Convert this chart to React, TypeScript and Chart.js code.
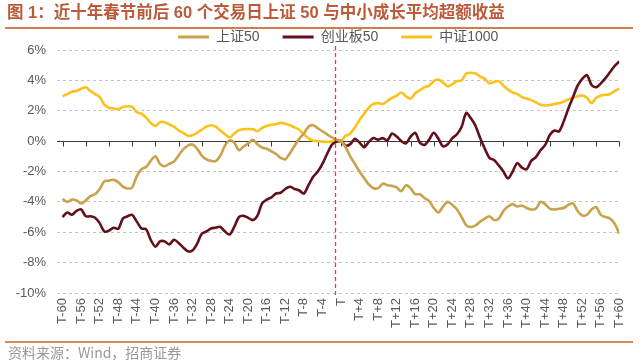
import React, { useEffect, useRef } from "react";
import { Chart, registerables } from "chart.js";

Chart.register(...registerables);

// Trading days relative to Spring Festival (T)
const dayOffsets: number[] = Array.from({ length: 121 }, (_, i) => i - 60);
const categories: string[] = dayOffsets.map((d) => (d === 0 ? "T" : d < 0 ? `T${d}` : `T+${d}`));
const labelEvery = 4;
const tickMarkEvery = 5;
const yTickValues = [-10, -8, -6, -4, -2, 0, 2, 4, 6];
const festivalMarker = -1.2; // position of the dashed T marker line

const seriesNames = ["上证50", "创业板50", "中证1000"];
const seriesColors = ["#C9A24C", "#62101A", "#FBC21B"];

const sz50: number[] = [
  -3.8, -4.0, -3.85, -3.9, -4.1, -3.9, -3.62, -3.5, -3.15, -2.65,
  -2.6, -2.55, -2.7, -3.0, -3.12, -3.05, -2.3, -1.85, -1.7, -1.3,
  -1.0, -1.5, -1.65, -1.5, -1.35, -0.95, -0.55, -0.3, -0.22, -0.5,
  -0.95, -1.2, -1.3, -1.32, -0.95, -0.3, 0.05, -0.1, -0.6, -0.35,
  -0.15, 0.08, -0.2, -0.42, -0.5, -0.67, -0.85, -1.1, -1.2, -0.8,
  -0.3, 0.15, 0.5, 0.95, 1.05, 0.85, 0.65, 0.45, 0.25, 0.1,
  0,
  -0.4, -1.0, -1.5, -2.0, -2.45, -2.85, -3.1, -3.1, -2.8, -2.9,
  -2.95, -3.05, -3.3, -2.9, -3.1, -3.5, -3.5, -3.75, -3.95, -4.4,
  -4.7, -4.3, -4.0, -4.2, -4.5, -5.0, -5.55, -5.65, -5.55, -5.3,
  -5.1, -4.95, -5.2, -5.1, -4.6, -4.3, -4.15, -4.3, -4.25, -4.4,
  -4.5, -4.45, -4.0, -4.15, -4.45, -4.5, -4.45, -4.4, -4.2, -4.1,
  -4.6, -4.9, -4.85, -4.5, -4.35, -4.85, -5.0, -5.1, -5.45, -6.1,
];

const cyb50: number[] = [
  -5.0, -4.7, -4.85, -4.6, -4.5, -4.95, -4.95, -5.05, -5.4, -5.95,
  -5.9, -5.7, -5.78, -5.1, -4.95, -4.85, -5.3, -5.75, -5.8, -6.5,
  -6.95, -6.6, -6.6, -6.8, -6.5, -6.7, -7.0, -7.25, -7.2, -6.75,
  -6.1, -5.95, -5.75, -5.7, -5.65, -5.95, -6.15, -5.65, -5.0, -4.92,
  -5.05, -5.2, -4.9, -4.1, -3.85, -3.7, -3.45, -3.4, -3.15, -3.0,
  -3.15, -3.25, -3.45, -2.9, -2.35, -2.0, -1.5, -0.85, -0.25, -0.05,
  0,
  -0.3, -0.2, 0.15, -0.1, -0.4, -0.05, 0.2, 0.1, 0.2, 0.05,
  0.5, 0.3, 0.0, -0.15, 0.3, 0.55, -0.1, -0.25, 0.1, 0.55,
  0.15, -0.35, -0.2, 0.2, 0.45, 0.95, 1.85, 1.5, 1.0, 0.2,
  -0.5, -1.1, -1.25, -1.6, -2.0, -2.45, -2.0, -1.45, -1.75, -1.85,
  -1.3, -1.05, -0.6, -0.25, 0.4, 0.7, 0.65, 1.3, 2.15, 2.9,
  3.65, 4.1, 4.35, 3.7, 3.55, 3.8, 4.15, 4.55, 4.95, 5.25,
];

const zz1000: number[] = [
  2.95, 3.1, 3.25, 3.3, 3.45, 3.55, 3.3, 3.1, 2.9, 2.4,
  2.2, 2.15, 2.1, 2.25, 2.3, 2.25, 1.9, 1.8, 1.55, 1.2,
  1.0, 1.25, 1.25, 1.1, 0.95, 0.7, 0.55, 0.35, 0.38, 0.55,
  0.75, 0.95, 1.05, 0.95, 0.7, 0.45, 0.25, 0.5, 0.72, 0.78,
  0.8, 0.78, 0.65, 0.88, 1.0, 1.08, 1.12, 1.2, 1.15, 1.05,
  0.9, 0.75, 0.45, 0.18, 0.03, 0.0, -0.03, -0.05, -0.03, 0.0,
  0,
  0.35, 0.5, 0.9, 1.4, 1.8, 2.2, 2.45, 2.5, 2.45, 2.65,
  2.85, 3.0, 3.2, 2.95, 2.8, 3.15, 3.35, 3.55, 3.65, 3.95,
  4.05, 3.85, 3.6, 3.75, 3.95, 4.0, 4.45, 4.5, 4.45, 4.25,
  4.1, 3.8, 3.9, 3.95, 3.65, 3.4, 3.2, 3.1, 2.9, 2.8,
  2.7, 2.55, 2.4, 2.35, 2.38, 2.45, 2.5, 2.6, 2.75, 2.85,
  2.95, 3.0, 2.85, 2.5, 2.85, 3.0, 3.05, 3.1, 3.3, 3.45,
];

const allSeries = [sz50, cyb50, zz1000];

const FONT = '"Liberation Sans", Arial, "Noto Sans CJK SC", sans-serif';
const TEXT = "#595959";

const decorPlugin = {
  id: "decor",
  beforeDatasetsDraw(chart: any) {
    const { ctx, chartArea, scales } = chart;
    const x = scales.x;
    const y = scales.y;
    const y0 = Math.round(y.getPixelForValue(0)) + 0.5;
    ctx.save();
    ctx.strokeStyle = "#3a3a3a";
    ctx.lineWidth = 1;
    ctx.beginPath();
    ctx.moveTo(chartArea.left, y0);
    ctx.lineTo(chartArea.right, y0);
    dayOffsets
      .filter((d) => (d + 60) % tickMarkEvery === 0)
      .forEach((d) => {
        const px = Math.round(x.getPixelForValue(d)) + 0.5;
        ctx.moveTo(px, y0);
        ctx.lineTo(px, y0 + 5);
      });
    ctx.stroke();
    ctx.restore();
  },
  afterDatasetsDraw(chart: any) {
    const { ctx, chartArea, scales } = chart;
    const px = Math.round(scales.x.getPixelForValue(festivalMarker)) + 0.5;
    ctx.save();
    ctx.strokeStyle = "#FF3030";
    ctx.lineWidth = 1.3;
    ctx.setLineDash([4, 3]);
    ctx.beginPath();
    ctx.moveTo(px, chartArea.top - 4);
    ctx.lineTo(px, chartArea.bottom + 2);
    ctx.stroke();
    ctx.restore();
  },
};

export default function App() {
  const canvasRef = useRef<HTMLCanvasElement | null>(null);

  useEffect(() => {
    if (!canvasRef.current) return;
    const chart = new Chart(canvasRef.current, {
      type: "line",
      data: {
        datasets: allSeries.map((vals, s) => ({
          label: seriesNames[s],
          data: vals.map((v, i) => ({ x: dayOffsets[i], y: v })),
          borderColor: seriesColors[s],
          backgroundColor: seriesColors[s],
          borderWidth: 2.6,
          pointRadius: 0,
          tension: 0.3,
        })),
      },
      options: {
        responsive: false,
        animation: false,
        devicePixelRatio: 1,
        layout: { padding: { top: 7, right: 17, bottom: 0, left: 0 } },
        plugins: {
          tooltip: { enabled: false },
          legend: {
            position: "top",
            fullSize: false,
            maxHeight: 43,
            labels: {
              color: TEXT,
              font: { size: 14, family: FONT },
              boxWidth: 31,
              boxHeight: 3,
              padding: 23,
              generateLabels: (c: any) =>
                Chart.defaults.plugins.legend.labels.generateLabels(c).map((l: any) => ({
                  ...l,
                  lineWidth: 0,
                  fillStyle: l.strokeStyle,
                })),
            },
          },
        },
        scales: {
          x: {
            type: "linear",
            min: -61.2,
            max: 60,
            afterBuildTicks: (scale: any) => {
              scale.ticks = dayOffsets
                .filter((d) => (d + 60) % labelEvery === 0)
                .map((d) => ({ value: d }));
            },
            afterFit: (scale: any) => {
              scale.height = 69;
            },
            ticks: {
              autoSkip: false,
              minRotation: 90,
              maxRotation: 90,
              padding: 5,
              color: TEXT,
              font: { size: 13, family: FONT },
              callback: (v: any) => categories[dayOffsets.indexOf(Number(v))] ?? "",
            },
            grid: { display: false, drawTicks: false },
            border: { display: false },
          },
          y: {
            min: -10,
            max: 6,
            afterBuildTicks: (scale: any) => {
              scale.ticks = yTickValues.map((v) => ({ value: v }));
            },
            afterFit: (scale: any) => {
              scale.width = 57;
            },
            ticks: {
              padding: 11,
              color: TEXT,
              font: { size: 13, family: FONT },
              callback: (v: any) => `${v}%`,
            },
            grid: {
              color: (ctx: any) => (ctx.tick && ctx.tick.value === 0 ? "rgba(0,0,0,0)" : "#C4C4C4"),
              drawTicks: false,
              lineWidth: 1,
            },
            border: { display: false, dash: [3, 3] },
          },
        },
      } as any,
      plugins: [decorPlugin],
    });
    return () => chart.destroy();
  }, []);

  return (
    <div
      style={{
        position: "absolute",
        left: 0,
        top: 0,
        width: 640,
        height: 362,
        background: "#fff",
        overflow: "hidden",
      }}
    >
      <canvas ref={canvasRef} width={640} height={362} style={{ position: "absolute", left: 0, top: 0 }} />
      <div
        style={{
          position: "absolute",
          left: 7,
          top: 2,
          fontFamily: '"Liberation Sans", Arial, "Noto Sans CJK SC", sans-serif',
          fontWeight: 700,
          fontSize: 16.5,
          lineHeight: "21px",
          color: "#BD5A3A",
          whiteSpace: "nowrap",
        }}
      >
        图 1：近十年春节前后 60 个交易日上证 50 与中小成长平均超额收益
      </div>
      <div style={{ position: "absolute", left: 5, top: 27, width: 628, height: 2, background: "#D27A50" }} />
      <div style={{ position: "absolute", left: 5, top: 341, width: 628, height: 1.5, background: "#D9895E" }} />
      <div
        style={{
          position: "absolute",
          left: 8,
          top: 344,
          fontFamily: '"Noto Sans CJK SC", sans-serif',
          fontSize: 14,
          lineHeight: "17px",
          color: "#999999",
          whiteSpace: "nowrap",
        }}
      >
        资料来源：Wind，招商证券
      </div>
    </div>
  );
}
